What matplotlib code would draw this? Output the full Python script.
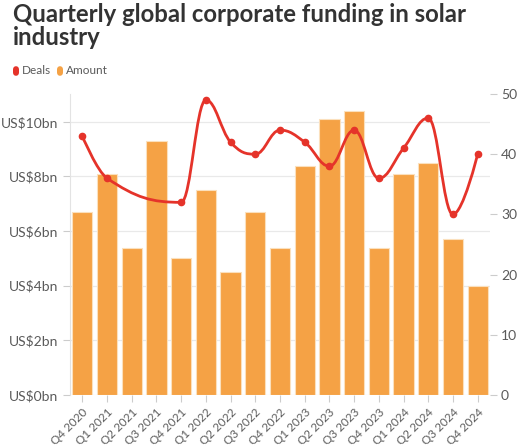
import numpy as np
import matplotlib.pyplot as plt
from matplotlib.patches import FancyBboxPatch
from matplotlib.path import Path
from matplotlib.patches import PathPatch

quarters = ["Q4 2020", "Q1 2021", "Q2 2021", "Q3 2021", "Q4 2021", "Q1 2022",
            "Q2 2022", "Q3 2022", "Q4 2022", "Q1 2023", "Q2 2023", "Q3 2023",
            "Q4 2023", "Q1 2024", "Q2 2024", "Q3 2024", "Q4 2024"]
amount = [6.7, 8.1, 5.4, 9.3, 5.0, 7.5, 4.5, 6.7, 5.4, 8.4, 10.1, 10.4,
          5.4, 8.1, 8.5, 5.7, 4.0]
deals = [43, 36, None, None, 32, 49, 42, 40, 44, 42, 38, 44, 36, 41, 46, 30, 40]
amount_ticks = [0, 2, 4, 6, 8, 10]
deal_ticks = [0, 10, 20, 30, 40, 50]

bar_col = "#f5a245"
line_col = "#e5332a"
text_col = "#5a5a5a"
grid_col = "#e9e9e9"
font = "Lato"

plt.rcParams['font.family'] = [font, 'DejaVu Sans']

fig = plt.figure(figsize=(5.2, 4.46), dpi=100)
ax = fig.add_axes([70/520, 1-395/446, 420/520, 301/446])
ax2 = ax.twinx()

x = np.arange(len(quarters))
ax.bar(x, amount, width=0.82, color=bar_col, edgecolor="#fbe0bd", linewidth=0.8, zorder=2)
ax.set_xlim(-0.5, len(quarters) - 0.5)
ax.set_ylim(0, 11.02)
ax.set_yticks(amount_ticks)
ax.set_yticklabels(["US$%dbn" % v for v in amount_ticks])
ax.grid(axis="y", color=grid_col, linewidth=0.9, zorder=0)
ax.set_axisbelow(True)
ax.set_xticks(x)
ax.set_xticklabels(quarters, rotation=45, ha="right", rotation_mode="anchor")

# spline through known deal counts (gaps connected)
px = np.array([i for i, d in enumerate(deals) if d is not None], dtype=float)
py = np.array([d for d in deals if d is not None], dtype=float)

def spline_path(px, py, smoothing=1.5):
    verts = [(px[0], py[0])]
    codes = [Path.MOVETO]
    n = len(px)
    conts = []
    for i in range(n):
        if i == 0 or i == n - 1:
            conts.append(((px[i], py[i]), (px[i], py[i])))
            continue
        d = smoothing + 1
        lx = (smoothing * px[i] + px[i-1]) / d
        ly = (smoothing * py[i] + py[i-1]) / d
        rx = (smoothing * px[i] + px[i+1]) / d
        ry = (smoothing * py[i] + py[i+1]) / d
        corr = ((ry - ly) * (rx - px[i])) / (rx - lx) + py[i] - ry
        ly += corr
        ry += corr
        if ly > py[i-1] and ly > py[i]:
            ly = max(py[i-1], py[i]); ry = 2 * py[i] - ly
        elif ly < py[i-1] and ly < py[i]:
            ly = min(py[i-1], py[i]); ry = 2 * py[i] - ly
        if ry > py[i+1] and ry > py[i]:
            ry = max(py[i+1], py[i]); ly = 2 * py[i] - ry
        elif ry < py[i+1] and ry < py[i]:
            ry = min(py[i+1], py[i]); ly = 2 * py[i] - ry
        conts.append(((lx, ly), (rx, ry)))
    for i in range(1, n):
        verts += [conts[i-1][1], conts[i][0], (px[i], py[i])]
        codes += [Path.CURVE4] * 3
    return Path(verts, codes)

ax2.add_patch(PathPatch(spline_path(px, py), facecolor="none", edgecolor=line_col,
                        linewidth=2, zorder=3))
ax2.plot(px, py, "o", color=line_col, markersize=4.5, zorder=4)
ax2.set_ylim(0, 50)
ax2.set_yticks(deal_ticks)

for a in (ax, ax2):
    for s in a.spines.values():
        s.set_visible(False)
    a.tick_params(colors="#cccccc", labelcolor=text_col, labelsize=10, length=5, width=0.8)
ax.spines["left"].set_visible(True)
ax.spines["left"].set_color("#e3e3e3")
ax.tick_params(axis="x", labelsize=8.5, length=5)
ax2.tick_params(axis="y", pad=3)

fig.text(13/520, 1-3/446, "Quarterly global corporate funding in solar\nindustry",
         fontsize=17.2, fontweight="bold", color="#333333", va="top", ha="left",
         linespacing=1.0)

# legend
leg_y = 1 - 71/446
for lx, col, lab in [(13, line_col, "Deals"), (57, bar_col, "Amount")]:
    fig.patches.append(FancyBboxPatch((lx/520, leg_y - 5/446), 6/520, 10/446,
                                      boxstyle="round,pad=0,rounding_size=0.008",
                                      transform=fig.transFigure, facecolor=col,
                                      edgecolor="none"))
    fig.text((lx + 9)/520, leg_y, lab, fontsize=8.5, color=text_col, va="center", ha="left")

fig.savefig("out.png", dpi=100)
